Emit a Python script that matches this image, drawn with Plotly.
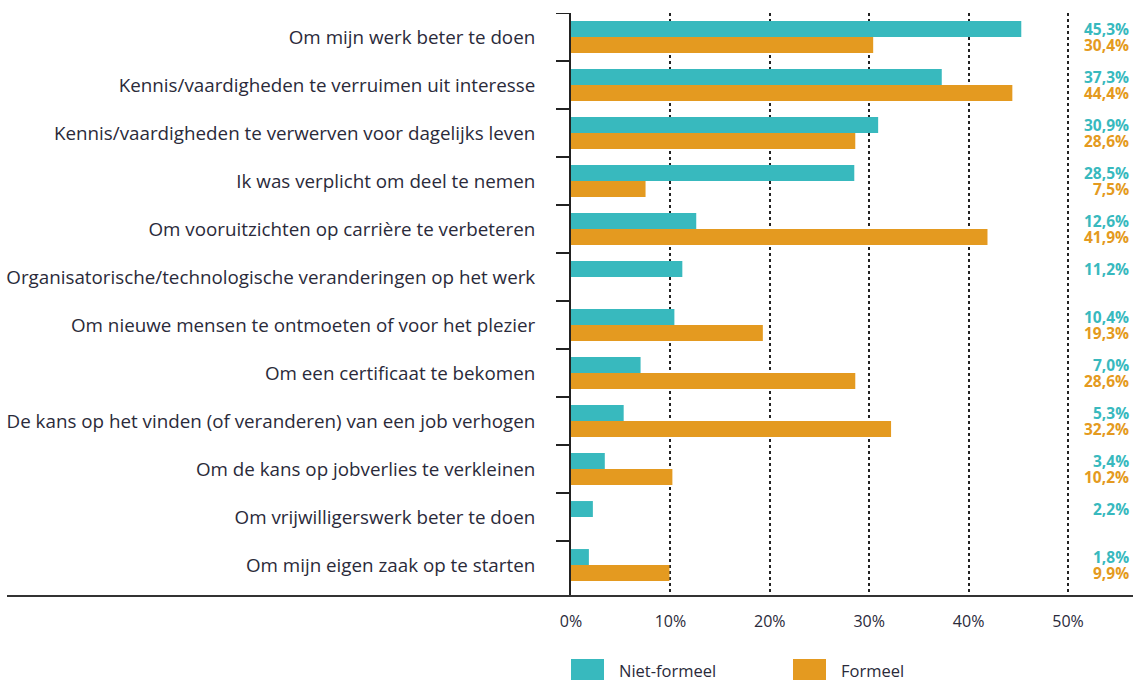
import plotly.graph_objects as go

# Redenen voor deelname aan opleiding, per type (in %)
categories = [
    "Om mijn werk beter te doen",
    "Kennis/vaardigheden te verruimen uit interesse",
    "Kennis/vaardigheden te verwerven voor dagelijks leven",
    "Ik was verplicht om deel te nemen",
    "Om vooruitzichten op carrière te verbeteren",
    "Organisatorische/technologische veranderingen op het werk",
    "Om nieuwe mensen te ontmoeten of voor het plezier",
    "Om een certificaat te bekomen",
    "De kans op het vinden (of veranderen) van een job verhogen",
    "Om de kans op jobverlies te verkleinen",
    "Om vrijwilligerswerk beter te doen",
    "Om mijn eigen zaak op te starten",
]
niet_formeel = [45.3, 37.3, 30.9, 28.5, 12.6, 11.2, 10.4, 7.0, 5.3, 3.4, 2.2, 1.8]
formeel = [30.4, 44.4, 28.6, 7.5, 41.9, None, 19.3, 28.6, 32.2, 10.2, None, 9.9]
series_names = ["Niet-formeel", "Formeel"]
x_ticks = [0, 10, 20, 30, 40, 50]

TEAL = "#38b9be"
ORANGE = "#e49a20"
TEXT = "#2a2a3a"
AXIS = "#222222"
FONT = "Open Sans"

W, H = 1133, 681
L, R, T, B = 571, 1, 13, 85
plot_w = W - L - R
plot_h = H - T - B
px_per_pct = 9.94
x_max = plot_w / px_per_pct
n = len(categories)
# a little empty space below the last category, above the baseline
y_bottom = (n - 0.5) + 7 / 48.0

fig = go.Figure()
fig.add_trace(go.Bar(y=categories, x=niet_formeel, name=series_names[0],
                     orientation="h", marker=dict(color=TEAL, line=dict(width=0))))
fig.add_trace(go.Bar(y=categories, x=formeel, name=series_names[1],
                     orientation="h", marker=dict(color=ORANGE, line=dict(width=0))))


def fmt(v):
    return f"{v:.1f}".replace(".", ",") + "%"


# percentage labels at the right margin
annotations = []
label_x = (1131 - L) / plot_w
for cat, a, b in zip(categories, niet_formeel, formeel):
    annotations.append(dict(x=label_x, xref="paper", y=cat, yref="y", yshift=8,
                            text=f"<b>{fmt(a)}</b>", showarrow=False,
                            xanchor="right", yanchor="middle",
                            font=dict(family=FONT, size=15.5, color=TEAL)))
    if b is not None:
        annotations.append(dict(x=label_x, xref="paper", y=cat, yref="y", yshift=-7.5,
                                text=f"<b>{fmt(b)}</b>", showarrow=False,
                                xanchor="right", yanchor="middle",
                                font=dict(family=FONT, size=15.5, color=ORANGE)))

shapes = []


def px_x(p):
    return (p - L) / plot_w


def px_y(p):
    return (H - B - p) / plot_h


# separator ticks between categories, left of the vertical axis
for i in range(n):
    shapes.append(dict(type="line", xref="paper", yref="y",
                       x0=px_x(556), x1=0, y0=i - 0.5, y1=i - 0.5,
                       line=dict(color=AXIS, width=2)))

# legend drawn as swatches below the axis
legend_items = [(series_names[0], TEAL, 571), (series_names[1], ORANGE, 793)]
for name, col, x0 in legend_items:
    shapes.append(dict(type="rect", xref="paper", yref="paper",
                       x0=px_x(x0), x1=px_x(x0 + 33), y0=px_y(680), y1=px_y(659),
                       fillcolor=col, line=dict(width=0)))
    annotations.append(dict(x=px_x(x0 + 46), xref="paper", y=px_y(670), yref="paper",
                            text=name, showarrow=False, xanchor="left", yanchor="middle",
                            font=dict(family=FONT, size=16.5, color=TEXT)))

# horizontal baseline running across the full width
shapes.append(dict(type="line", xref="paper", yref="paper",
                   x0=px_x(7), x1=px_x(1133), y0=0, y1=0,
                   line=dict(color="#333333", width=2)))

fig.update_layout(
    width=W, height=H,
    margin=dict(l=L, r=R, t=T, b=B),
    paper_bgcolor="white", plot_bgcolor="white",
    barmode="group", bargap=0.335, bargroupgap=0,
    showlegend=False,
    font=dict(family=FONT, color=TEXT),
    annotations=annotations,
    shapes=shapes,
)
fig.update_xaxes(
    range=[0, x_max], tickvals=x_ticks, ticktext=[f"{v}%" for v in x_ticks],
    showgrid=True, gridcolor=AXIS, gridwidth=1.5, griddash="dot",
    zeroline=False, showline=False, ticks="", ticklabelstandoff=14,
    tickfont=dict(family=FONT, size=16, color=TEXT),
)
fig.update_yaxes(
    range=[y_bottom, -0.5], showgrid=False, zeroline=False,
    showline=True, linecolor=AXIS, linewidth=2,
    ticks="", ticklabelstandoff=30,
    tickfont=dict(family=FONT, size=18.8, color=TEXT),
)

fig.write_html("out.html")
